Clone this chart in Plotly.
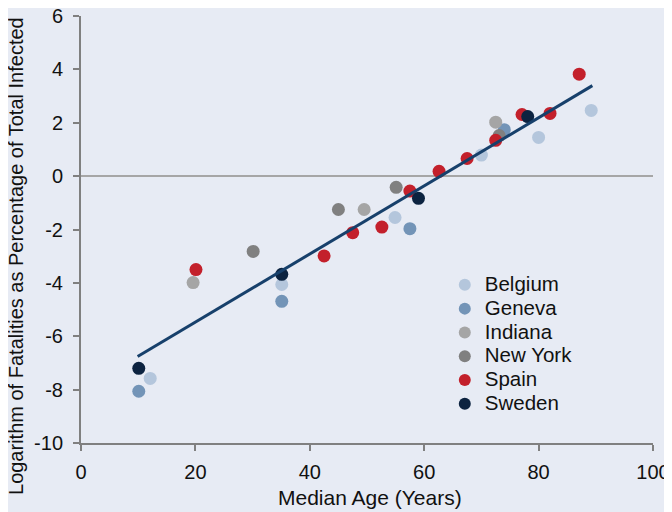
import numpy as np
import plotly.graph_objects as go

# ---- data ----
belgium_x = [12.1, 35.1, 54.9, 70.0, 80.0, 89.2]
belgium_y = [-7.58, -4.06, -1.55, 0.79, 1.45, 2.46]

geneva_x = [10.1, 35.1, 57.5, 74.0]
geneva_y = [-8.06, -4.69, -1.97, 1.74]

indiana_x = [19.6, 49.5, 72.5]
indiana_y = [-3.99, -1.25, 2.02]

newyork_x = [30.1, 45.0, 55.1, 73.1]
newyork_y = [-2.82, -1.25, -0.42, 1.52]

spain_x = [20.1, 42.5, 47.5, 52.6, 57.5, 62.6, 67.5, 72.5, 77.1, 82.0, 87.1]
spain_y = [-3.50, -2.99, -2.12, -1.91, -0.56, 0.18, 0.66, 1.34, 2.31, 2.35, 3.82]

sweden_x = [10.1, 35.1, 59.0, 78.1]
sweden_y = [-7.20, -3.68, -0.83, 2.23]

# trend line as drawn in the reference (start / end ages and fitted values)
trend_x = [9.9, 89.4]
trend_y = [-6.76, 3.39]

x_ticks = [0, 20, 40, 60, 80, 100]
x_ticklabels = ["0", "20", "40", "60", "80", "100"]
y_ticks = [-10, -8, -6, -4, -2, 0, 2, 4, 6]
y_ticklabels = ["-10", "-8", "-6", "-4", "-2", "0", "2", "4", "6"]

x_title = "Median Age (Years)"
y_title = "Logarithm of Fatalities as Percentage of Total Infected"

series = [
    ("Belgium", belgium_x, belgium_y, "#b4c6dc"),
    ("Geneva", geneva_x, geneva_y, "#7394b7"),
    ("Indiana", indiana_x, indiana_y, "#a5a5a5"),
    ("New York", newyork_x, newyork_y, "#808080"),
    ("Spain", spain_x, spain_y, "#c3202b"),
    ("Sweden", sweden_x, sweden_y, "#0c2340"),
]

fig = go.Figure()
for name, xs, ys, col in series:
    fig.add_trace(go.Scatter(
        x=xs, y=ys, mode="markers",
        name='<span style="font-size:20.5px">' + name + '</span>',
        marker=dict(size=13, color=col, line=dict(width=0)),
    ))

fig.add_trace(go.Scatter(
    x=trend_x, y=trend_y, mode="lines", showlegend=False,
    line=dict(color="#17406b", width=3), hoverinfo="skip",
))

bg = "#e7ebf4"
font_family = "Liberation Sans, Arial, sans-serif"

# page body has an 8px margin: the figure is sized/offset to compensate
fig.update_layout(
    width=664, height=504,
    template="none",
    paper_bgcolor=bg, plot_bgcolor=bg,
    margin=dict(l=73, r=19, t=8, b=69, pad=0),
    font=dict(family=font_family, size=19, color="#111111"),
    showlegend=True,
    legend=dict(
        x=0.636, y=0.41, xanchor="left", yanchor="top",
        bgcolor="rgba(0,0,0,0)", borderwidth=0,
        font=dict(size=16, color="#111111"),
        itemsizing="constant",
    ),
    xaxis=dict(
        range=[0, 100], tickvals=x_ticks, ticktext=x_ticklabels,
        showgrid=False, zeroline=False, automargin=False,
        showline=True, linecolor="#808080", linewidth=2,
        ticks="outside", ticklen=6, tickwidth=2, tickcolor="#808080",
        ticklabelstandoff=4, ticklabeloverflow="allow",
        tickfont=dict(size=20),
    ),
    yaxis=dict(
        range=[-10, 6], tickvals=y_ticks, ticktext=y_ticklabels,
        showgrid=False, automargin=False,
        zeroline=True, zerolinecolor="#a6a6a6", zerolinewidth=2,
        showline=True, linecolor="#808080", linewidth=2,
        ticks="outside", ticklen=6, tickwidth=2, tickcolor="#808080",
        ticklabelstandoff=6, ticklabeloverflow="allow",
        tickfont=dict(size=20),
    ),
    annotations=[
        dict(text=x_title, xref="paper", yref="paper", x=0.505, y=-0.1265,
             xanchor="center", yanchor="middle", showarrow=False,
             font=dict(size=21, color="#111111")),
        dict(text=y_title, xref="paper", yref="paper", x=-0.1136, y=0.438,
             xanchor="center", yanchor="middle", showarrow=False, textangle=-90,
             font=dict(size=20, color="#111111")),
    ],
)

fig.write_html("out.html")
